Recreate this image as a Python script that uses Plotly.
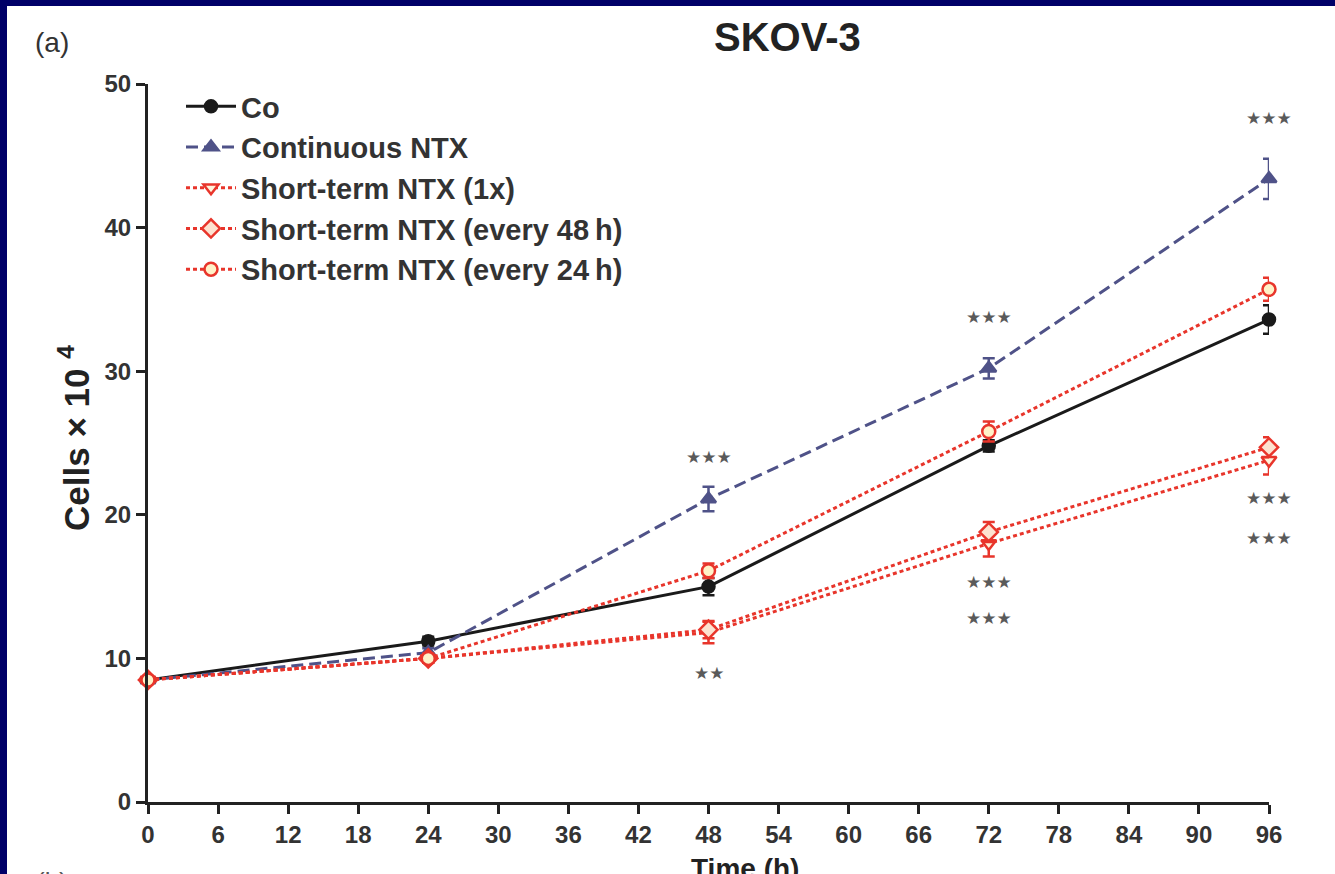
import plotly.graph_objects as go

# ---- data ----
time_h = [0, 24, 48, 72, 96]

co_mean = [8.5, 11.2, 15.0, 24.8, 33.6]
co_err = [0.2, 0.3, 0.6, 0.4, 1.0]

cont_mean = [8.5, 10.4, 21.1, 30.2, 43.4]
cont_err = [0.2, 0.3, 0.85, 0.7, 1.4]

st1x_mean = [8.5, 10.0, 11.8, 18.0, 23.8]
st1x_err = [0.2, 0.3, 0.75, 0.9, 1.0]

st48_mean = [8.5, 10.0, 12.0, 18.8, 24.7]
st48_err = [0.2, 0.3, 0.6, 0.7, 0.7]

st24_mean = [8.5, 10.0, 16.1, 25.8, 35.7]
st24_err = [0.2, 0.3, 0.5, 0.7, 0.8]

series_names = ["Co", "Continuous NTX", "Short-term NTX (1x)",
                "Short-term NTX (every 48\u2009h)", "Short-term NTX (every 24\u2009h)"]

# significance labels: (time, y position, text)
sig_time = [48, 48, 72, 72, 72, 96, 96, 96]
sig_y = [24.0, 9.0, 33.8, 15.3, 12.8, 47.6, 21.2, 18.4]
sig_text = ["***", "**", "***", "***", "***", "***", "***", "***"]

x_ticks = list(range(0, 97, 6))
y_ticks = [0, 10, 20, 30, 40, 50]

# ---- styles ----
RED = "#e8352b"
BLUE = "#4f5288"
BLACK = "#1a1a1a"
NAVY = "#000068"
FONT = "Liberation Sans, Arial, sans-serif"

W, H = 1335, 874
ML, MR, MT, MB = 148, 66, 84, 72
PW, PH = W - ML - MR, H - MT - MB


def px_x(px):
    return (px - ML) / PW


def px_y(py):
    return 1 - (py - MT) / PH


fig = go.Figure()


def add(name, y, err, color, dash, symbol, fill, size, lw=3):
    fig.add_trace(go.Scatter(
        x=time_h, y=y, name=name, mode="lines+markers",
        line=dict(color=color, width=lw, dash=dash),
        marker=dict(symbol=symbol, size=size, color=fill,
                    line=dict(color=color, width=2.5)),
        error_y=dict(type="data", array=err, visible=True, color=color,
                     thickness=2.5, width=6),
        cliponaxis=False,
    ))


add(series_names[0], co_mean, co_err, BLACK, "solid", "circle", BLACK, 12)
add(series_names[1], cont_mean, cont_err, BLUE, "12px,6px", "triangle-up", BLUE, 13)
add(series_names[2], st1x_mean, st1x_err, RED, "4px,3px", "triangle-down", "#fff4dc", 13)
add(series_names[3], st48_mean, st48_err, RED, "4px,3px", "diamond", "#fde2d0", 14)
add(series_names[4], st24_mean, st24_err, RED, "4px,3px", "circle", "#fff2c8", 13)

annotations = []
for t, yy, s in zip(sig_time, sig_y, sig_text):
    annotations.append(dict(
        x=t, y=yy, xref="x", yref="y", text=s.replace("*", "\u2605"),
        showarrow=False, font=dict(family="DejaVu Sans", size=17, color="#5a5a5a"),
        xanchor="center", yanchor="middle"))

annotations += [
    dict(x=px_x(787), y=px_y(37), xref="paper", yref="paper", text="<b>SKOV-3</b>",
         showarrow=False, font=dict(family=FONT, size=40, color="#222"),
         xanchor="center", yanchor="middle"),
    dict(x=px_x(52), y=px_y(43), xref="paper", yref="paper", text="(a)",
         showarrow=False, font=dict(family=FONT, size=28, color="#333"),
         xanchor="center", yanchor="middle"),
    dict(x=px_x(74), y=px_y(438), xref="paper", yref="paper",
         text="<b>Cells \u00d7 10 <sup>4</sup></b>", textangle=-90,
         showarrow=False, font=dict(family=FONT, size=35, color="#222"),
         xanchor="center", yanchor="middle"),
    dict(x=px_x(745), y=px_y(851), xref="paper", yref="paper", text="<b>Time (h)</b>",
         showarrow=False, font=dict(family=FONT, size=28, color="#222"),
         xanchor="center", yanchor="top"),
    dict(x=px_x(52), y=px_y(865), xref="paper", yref="paper", text="(b)",
         showarrow=False, font=dict(family=FONT, size=26, color="#555"),
         xanchor="center", yanchor="top"),
]

shapes = [
    dict(type="rect", xref="paper", yref="paper", x0=px_x(0), x1=px_x(7),
         y0=px_y(H), y1=px_y(0), fillcolor=NAVY, line=dict(width=0)),
    dict(type="rect", xref="paper", yref="paper", x0=px_x(0), x1=px_x(W),
         y0=px_y(6), y1=px_y(0), fillcolor=NAVY, line=dict(width=0)),
]

axis_common = dict(
    showline=True, linewidth=3, linecolor="#222", ticks="outside", ticklen=9,
    tickwidth=3, tickcolor="#222", showgrid=False, zeroline=False,
    tickfont=dict(family=FONT, size=24, color="#333"), fixedrange=True,
)

fig.update_layout(
    width=W, height=H,
    margin=dict(l=ML, r=MR, t=MT, b=MB, pad=0),
    paper_bgcolor="white", plot_bgcolor="white",
    showlegend=True,
    legend=dict(x=px_x(181), y=px_y(81), xanchor="left", yanchor="top",
                bgcolor="rgba(0,0,0,0)", itemwidth=50,
                font=dict(family=FONT, size=29, color="#333", weight="bold"),
                tracegroupgap=0),
    xaxis=dict(range=[0, 96], tickvals=x_ticks, ticktext=[f"<b>{v}</b>" for v in x_ticks],
               **axis_common),
    yaxis=dict(range=[0, 50], tickvals=y_ticks, ticktext=[f"<b>{v}</b>" for v in y_ticks],
               **axis_common),
    annotations=annotations,
    shapes=shapes,
)

fig.write_html("out.html")
